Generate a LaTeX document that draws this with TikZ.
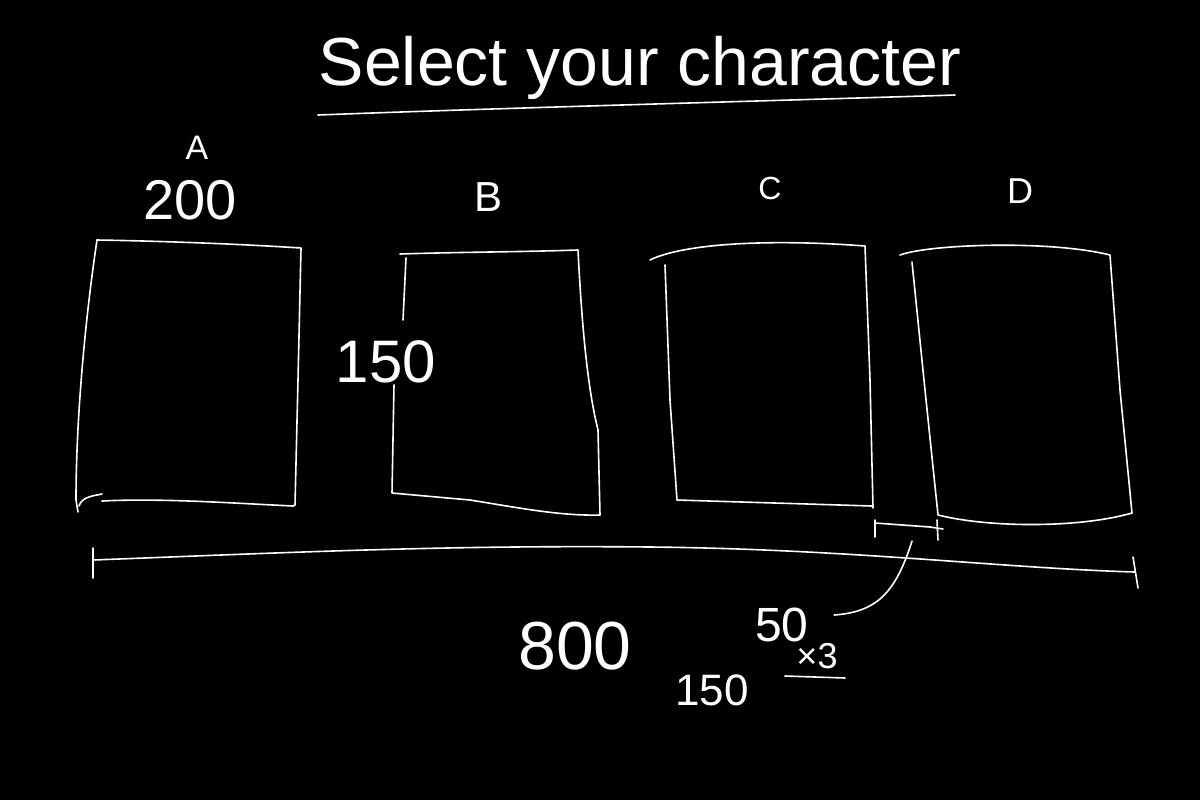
\documentclass[tikz,border=0pt]{standalone}
\usepackage{fontspec}
\setmainfont{Liberation Sans}
\begin{document}
\begin{tikzpicture}[x=0.5pt,y=-0.5pt,
  ink/.style={draw=white,line width=0.8pt,line cap=round,line join=round},
  lbl/.style={text=white,inner sep=0pt,anchor=center},
  fs/.style={font=\fontsize{#1}{#1}\selectfont}]
\fill[black] (0,0) rectangle (1200,800);
\useasboundingbox (0,0) rectangle (1200,800);
% title
\node[lbl,fs=34] (title) at (640,68) {Select your character};
\draw[ink] (318,115) .. controls (500,108) and (800,100) .. (955,95);
% labels
\node[lbl,fs=17] (la) at (197,148) {A};
\node[lbl,fs=28] (l200) at (190,200) {200};
\node[lbl,fs=21] (lb) at (489,197) {B};
\node[lbl,fs=16] (lc) at (770,188) {C};
\node[lbl,fs=18] (ld) at (1020,191) {D};
\node[lbl,fs=30] (l150) at (386,362) {150};
% box A
\draw[ink] (97,240) .. controls (160,241) and (240,244) .. (301,248)
  -- (298,380) -- (295,505);
\draw[ink] (97,240) .. controls (85,320) and (76,420) .. (76,500) -- (78,512);
\draw[ink] (79,506) .. controls (82,497) and (92,496) .. (102,494);
\draw[ink] (102,501) .. controls (160,498) and (230,503) .. (293,506) -- (295,505);
% box B
\draw[ink] (400,254) .. controls (460,252) and (520,252) .. (578,250)
  .. controls (582,330) and (588,390) .. (598,430) -- (600,515)
  .. controls (560,516) and (520,508) .. (470,500) -- (392,493) -- (394,385);
\draw[ink] (403,320) -- (406,258);
% box C
\draw[ink] (650,260) .. controls (680,245) and (760,238) .. (865,246)
  -- (870,380) -- (873,508);
\draw[ink] (665,265) -- (670,400) -- (677,500) -- (872,506);
% box D
\draw[ink] (900,255) .. controls (930,244) and (1050,240) .. (1110,255)
  -- (1120,390) -- (1132,513);
\draw[ink] (912,262) -- (925,390) -- (938,515)
  .. controls (990,528) and (1080,528) .. (1132,513);
% long dimension
\coordinate (dl) at (93,560);
\coordinate (dr) at (1135,572);
\draw[ink] (93,548) -- (93,578);
\draw[ink] (dl) .. controls (300,552) and (450,545) .. (650,547)
  .. controls (850,549) and (1000,568) .. (dr);
\draw[ink] (1133,557) -- (1138,588);
% small dimension
\coordinate (sl) at (875,523);
\coordinate (sr) at (943,529);
\draw[ink] (875,520) -- (875,537);
\draw[ink] (sl) -- (930,527) -- (sr);
\draw[ink] (937,520) -- (938,540);
% numbers
\node[lbl,fs=34] (l800) at (575,646) {800};
\node[lbl,fs=24] (l50) at (782,625) {50};
\node[lbl,fs=18] (lx3) at (817,656) {×3};
\draw[ink] (785,676) -- (845,678);
\node[lbl,fs=22] (l150b) at (712,690) {150};
% leader from 50 to small dimension
\coordinate (lead) at (912,541);
\draw[ink] (l50.east) ++(25,-10) coordinate (le) (le) .. controls (875,612) and (895,595) .. (lead);
\end{tikzpicture}
\end{document}
